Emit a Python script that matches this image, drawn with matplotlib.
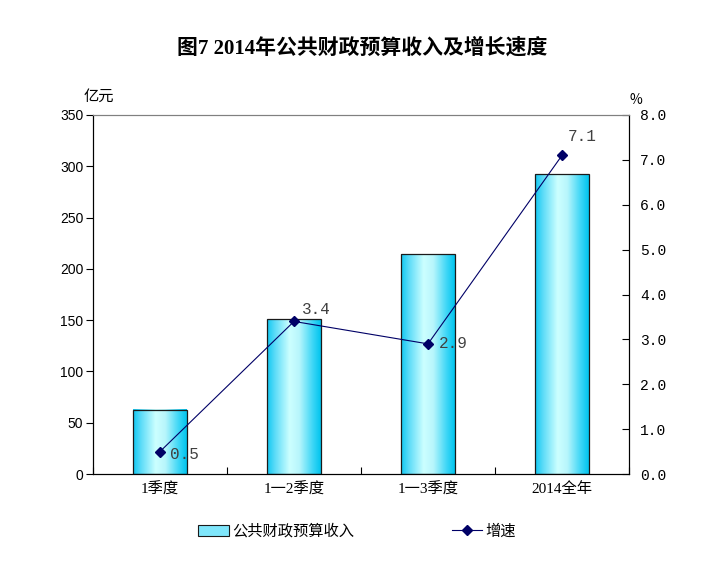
import numpy as np
import matplotlib
matplotlib.use("Agg")
import matplotlib.pyplot as plt
from matplotlib.colors import LinearSegmentedColormap
from matplotlib.lines import Line2D
from matplotlib.patches import Patch

plt.rcParams['font.family'] = ['Noto Sans CJK SC', 'DejaVu Sans']

categories = ["1季度", "1一2季度", "1一3季度", "2014全年"]
revenue = [62.4, 150.8, 214.4, 292.1]
growth = [0.5, 3.4, 2.9, 7.1]
growth_labels = ["0.5", "3.4", "2.9", "7.1"]
left_ticks = [0, 50, 100, 150, 200, 250, 300, 350]
right_ticks = [0.0, 1.0, 2.0, 3.0, 4.0, 5.0, 6.0, 7.0, 8.0]

fig = plt.figure(figsize=(7.25, 5.62), dpi=100)
ax = fig.add_axes([93/725, 1-474/562, (629-93)/725, (474-115)/562])
ax2 = ax.twinx()

x = np.arange(len(categories))
bars = ax.bar(x, revenue, width=0.40, facecolor='none', edgecolor='#1a1a1a',
              linewidth=0.9, zorder=3)

cmap = LinearSegmentedColormap.from_list(
    "cyan", [(0.0, "#10c8f2"), (0.15, "#5ddcf8"), (0.42, "#ccffff"),
             (0.6, "#b8f6fc"), (0.85, "#3cd6f6"), (1.0, "#00c4ee")])
grad = np.linspace(0, 1, 256).reshape(1, -1)
for b in bars:
    ax.imshow(grad, cmap=cmap, aspect='auto', zorder=2,
              extent=(b.get_x(), b.get_x() + b.get_width(), 0, b.get_height()),
              interpolation='bicubic')

ax.set_xlim(-0.5, len(categories) - 0.5)
ax.set_ylim(0, 350)
ax.set_yticks(left_ticks)
ax.set_yticklabels([str(v) for v in left_ticks], fontsize=10,
                   family=['Liberation Sans'])
ax.set_xticks(np.arange(len(categories) + 1) - 0.5, minor=False)
ax.set_xticklabels([])
ax.tick_params(axis='x', direction='in', length=5, width=0.8)
ax.set_xticks(x, minor=True)
ax.set_xticklabels(categories, minor=True, fontsize=11,
                   family=['Liberation Serif', 'Noto Sans CJK SC'])
ax.tick_params(axis='x', which='minor', length=0, pad=6)
ax.tick_params(axis='y', direction='out', length=5, width=0.8, pad=2)

ax2.plot(x, growth, color='#000066', linewidth=0.8, marker='D', markersize=5.5,
         markerfacecolor='#000066', markeredgecolor='#000066', zorder=5)
ax2.set_ylim(0, 8)
ax2.set_yticks(right_ticks)
ax2.set_yticklabels([f"{v:.1f}" for v in right_ticks], fontsize=10.5,
                    family=['Liberation Mono'])
ax2.tick_params(axis='y', direction='in', length=5, width=0.8, pad=8)

offsets = [(7, -2, 'left', 'center'), (6, 3, 'left', 'bottom'),
           (8, 0, 'left', 'center'), (4, 8, 'left', 'bottom')]
for xi, g, lab, (dx, dy, ha, va) in zip(x, growth, growth_labels, offsets):
    ax2.annotate(lab, (xi, g), xytext=(dx, dy), textcoords='offset points',
                 ha=ha, va=va, fontsize=11.5, color='#404040',
                 family=['Liberation Mono'])

for a in (ax, ax2):
    a.spines['top'].set_color('#808080')
    a.spines['top'].set_linewidth(0.8)
    a.spines['left'].set_linewidth(0.8)
    a.spines['right'].set_linewidth(0.8)
    a.spines['bottom'].set_linewidth(0.8)
ax.set_zorder(1)
ax2.set_zorder(2)
ax2.patch.set_visible(False)

fig.text(362/725, 1-48/562, "图7 2014年公共财政预算收入及增长速度", ha='center',
         va='center', fontsize=15, fontweight='bold',
         family=['Liberation Serif', 'Noto Sans CJK SC'])
fig.text(99/725, 1-96/562, "亿元", ha='center', va='center', fontsize=11)
fig.text(636/725, 1-100/562, "%", ha='center', va='center', fontsize=10)

handles = [Patch(facecolor='#7fe6fb', edgecolor='#1a1a1a', linewidth=0.8),
           Line2D([0], [0], color='#000066', marker='D', markersize=5,
                  linewidth=0.8)]
leg = fig.legend(handles, ["公共财政预算收入", "增速"], loc='center left',
                 bbox_to_anchor=(186/725, 1-531/562), ncol=2, frameon=False,
                 fontsize=11, columnspacing=6.4, handlelength=2.0,
                 handletextpad=0.2, borderpad=0.3)

fig.savefig("out.png", dpi=100)
